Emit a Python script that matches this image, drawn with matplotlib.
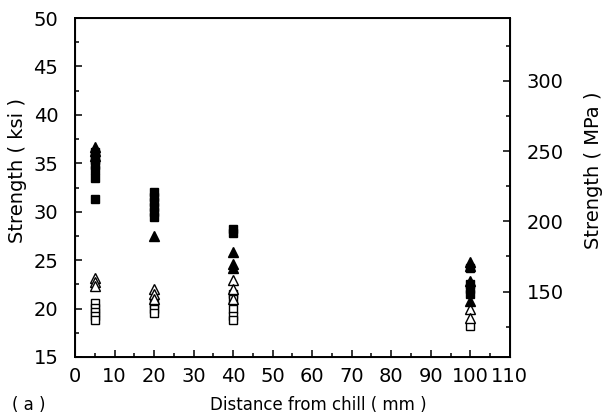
import numpy as np
import matplotlib
matplotlib.use("Agg")
import matplotlib.pyplot as plt
from matplotlib.ticker import MultipleLocator, FixedLocator

plt.rcParams.update({"font.family": ["DejaVu Sans"],
                     "font.size": 14})

KSI_TO_MPA = 6.895

# strength readings (ksi) at each distance from the chill (mm)
dist_fsq = [5, 5, 5, 5, 5, 5, 5,
            20, 20, 20, 20, 20, 20,
            40, 40,
            100, 100, 100]
val_fsq = [31.3, 33.5, 34.3, 34.8, 35.3, 35.8, 36.2,
           29.5, 30.0, 30.5, 31.0, 31.5, 32.0,
           27.8, 28.2,
           22.0, 21.5, 22.5]

dist_ftri = [5, 5, 5, 20, 40, 40, 40, 100, 100, 100, 100]
val_ftri = [35.8, 36.3, 36.7, 27.5, 25.8, 24.6, 24.2, 24.8, 24.4, 22.8, 20.8]

dist_otri = [5, 5, 5, 20, 20, 20, 40, 40, 40, 100, 100]
val_otri = [23.2, 22.7, 22.3, 22.0, 21.5, 21.0, 23.0, 22.0, 21.0, 20.0, 19.0]

dist_osq = [5, 5, 5, 5, 5, 20, 20, 20, 40, 40, 40, 40, 40, 100, 100]
val_osq = [20.6, 20.1, 19.6, 19.2, 18.8, 20.5, 20.0, 19.5,
           21.5, 21.0, 20.0, 19.2, 18.8, 24.2, 18.2]

fig = plt.figure(figsize=(6.15, 4.19), dpi=100)
ax = fig.add_axes([0.122, 0.148, 0.707, 0.809])

ms = 5.5
ax.plot(dist_osq, val_osq, "s", ms=ms, mfc="white", mec="black", mew=1.0, ls="none")
ax.plot(dist_otri, val_otri, "^", ms=ms + 1, mfc="white", mec="black", mew=1.0, ls="none")
ax.plot(dist_fsq, val_fsq, "s", ms=ms + 0.5, color="black", ls="none")
ax.plot(dist_ftri, val_ftri, "^", ms=ms + 1.5, color="black", ls="none")

ax.set_xlim(0, 110)
ax.set_ylim(15, 50)
ax.xaxis.set_major_locator(MultipleLocator(10))
ax.xaxis.set_minor_locator(MultipleLocator(5))
ax.yaxis.set_major_locator(MultipleLocator(5))
ax.yaxis.set_minor_locator(MultipleLocator(2.5))
ax.tick_params(which="both", direction="in", top=False, right=False, width=1.1)
ax.tick_params(which="major", length=5)
ax.tick_params(which="minor", length=3)
ax.tick_params(axis="y", pad=12)
ax.tick_params(axis="x", pad=7)
for s in ax.spines.values():
    s.set_linewidth(1.4)

ax.set_ylabel("Strength ( ksi )", fontsize=14)
ax.yaxis.set_label_coords(-0.11, 0.55)
ax.set_xlabel("Distance from chill ( mm )", fontsize=12)
ax.xaxis.set_label_coords(0.559, -0.142)
ax.xaxis.label.set_va("center")
fig.text(0.047, 0.033, "( a )", fontsize=12, va="center", ha="center")

# secondary scale in MPa
ax2 = ax.twinx()
ax2.set_ylim(15 * KSI_TO_MPA, 50 * KSI_TO_MPA)
ax2.yaxis.set_major_locator(FixedLocator([150, 200, 250, 300]))
ax2.yaxis.set_minor_locator(FixedLocator([125, 175, 225, 275, 325]))
ax2.tick_params(which="both", direction="in", width=1.1, pad=12)
ax2.tick_params(which="major", length=5)
ax2.tick_params(which="minor", length=3)
ax2.set_ylabel("Strength ( MPa )", fontsize=14)
ax2.yaxis.set_label_coords(1.17, 0.55)

fig.savefig("out.png", dpi=100)
